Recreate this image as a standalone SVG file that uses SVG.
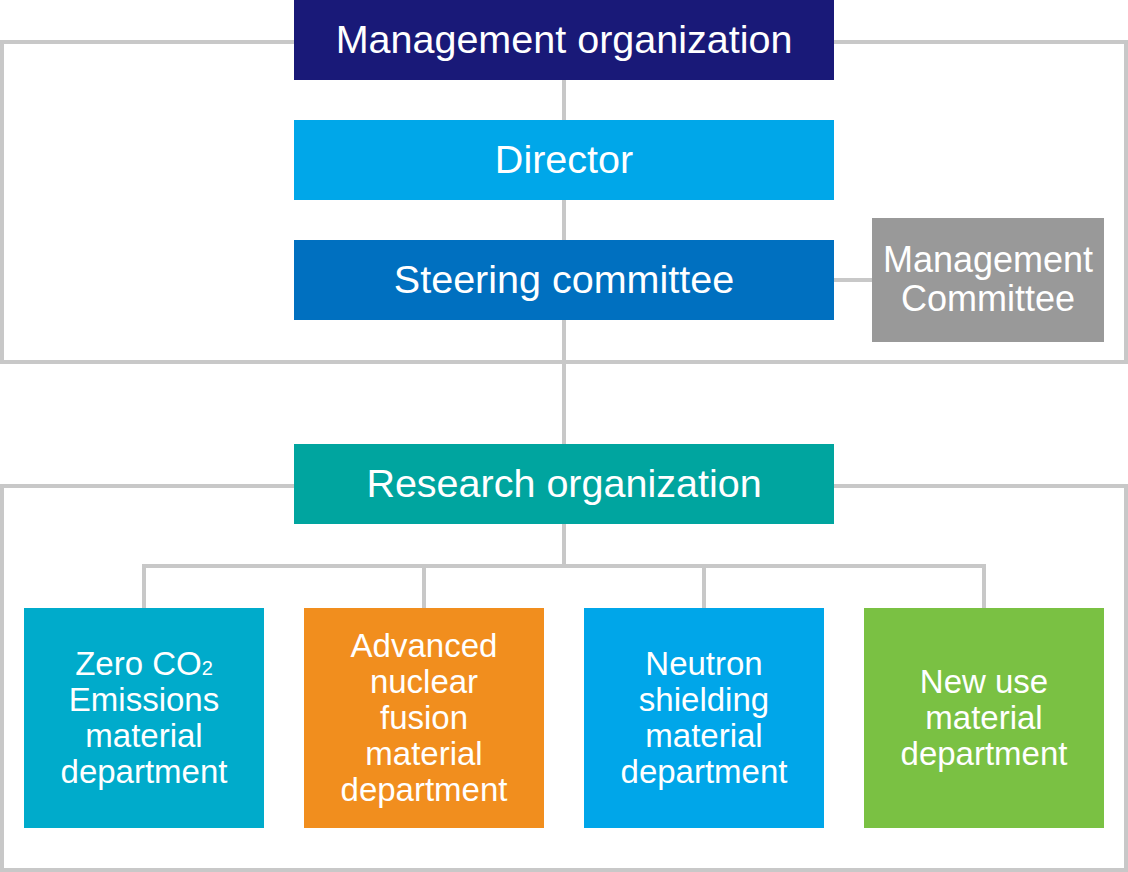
<svg xmlns="http://www.w3.org/2000/svg" width="1128" height="872" viewBox="0 0 1128 872">
<style>
.ln{fill:none;stroke:#c8c8c8;stroke-width:4}
.t{font-family:"Liberation Sans",Arial,sans-serif;fill:#fff;text-anchor:middle}
.big{font-size:39.5px}
.sm{font-size:33px}
.mc{font-size:36px}
</style>
<rect width="1128" height="872" fill="#fff"/>
<g id="connectors">
<rect class="ln" x="2" y="42" width="1124" height="320"/>
<rect class="ln" x="2" y="486" width="1124" height="384"/>
<line class="ln" x1="564" y1="80" x2="564" y2="444"/>
<line class="ln" x1="834" y1="280" x2="872" y2="280"/>
<line class="ln" x1="564" y1="524" x2="564" y2="566"/>
<polyline class="ln" points="144,608 144,566 984,566 984,608"/>
<line class="ln" x1="424" y1="566" x2="424" y2="608"/>
<line class="ln" x1="704" y1="566" x2="704" y2="608"/>
</g>
<g id="management-organization">
<rect x="294" y="0" width="540" height="80" fill="#191978"/>
<text class="t big" x="564" y="53">Management organization</text>
</g>
<g id="director">
<rect x="294" y="120" width="540" height="80" fill="#00a7e9"/>
<text class="t big" x="564" y="173">Director</text>
</g>
<g id="steering-committee">
<rect x="294" y="240" width="540" height="80" fill="#0070c0"/>
<text class="t big" x="564" y="293">Steering committee</text>
</g>
<g id="management-committee">
<rect x="872" y="218" width="232" height="124" fill="#999999"/>
<text class="t mc" x="988" y="272">Management</text>
<text class="t mc" x="988" y="311">Committee</text>
</g>
<g id="research-organization">
<rect x="294" y="444" width="540" height="80" fill="#00a59f"/>
<text class="t big" x="564" y="497">Research organization</text>
</g>
<g id="zero-co2">
<rect x="24" y="608" width="240" height="220" fill="#00abcb"/>
<text class="t sm" x="144" y="675">Zero CO<tspan font-size="20">2</tspan></text>
<text class="t sm" x="144" y="711">Emissions</text>
<text class="t sm" x="144" y="747">material</text>
<text class="t sm" x="144" y="783">department</text>
</g>
<g id="advanced-nuclear-fusion">
<rect x="304" y="608" width="240" height="220" fill="#f18e1e"/>
<text class="t sm" x="424" y="657">Advanced</text>
<text class="t sm" x="424" y="693">nuclear</text>
<text class="t sm" x="424" y="729">fusion</text>
<text class="t sm" x="424" y="765">material</text>
<text class="t sm" x="424" y="801">department</text>
</g>
<g id="neutron-shielding">
<rect x="584" y="608" width="240" height="220" fill="#00a6e9"/>
<text class="t sm" x="704" y="675">Neutron</text>
<text class="t sm" x="704" y="711">shielding</text>
<text class="t sm" x="704" y="747">material</text>
<text class="t sm" x="704" y="783">department</text>
</g>
<g id="new-use">
<rect x="864" y="608" width="240" height="220" fill="#7ac143"/>
<text class="t sm" x="984" y="693">New use</text>
<text class="t sm" x="984" y="729">material</text>
<text class="t sm" x="984" y="765">department</text>
</g>
</svg>
